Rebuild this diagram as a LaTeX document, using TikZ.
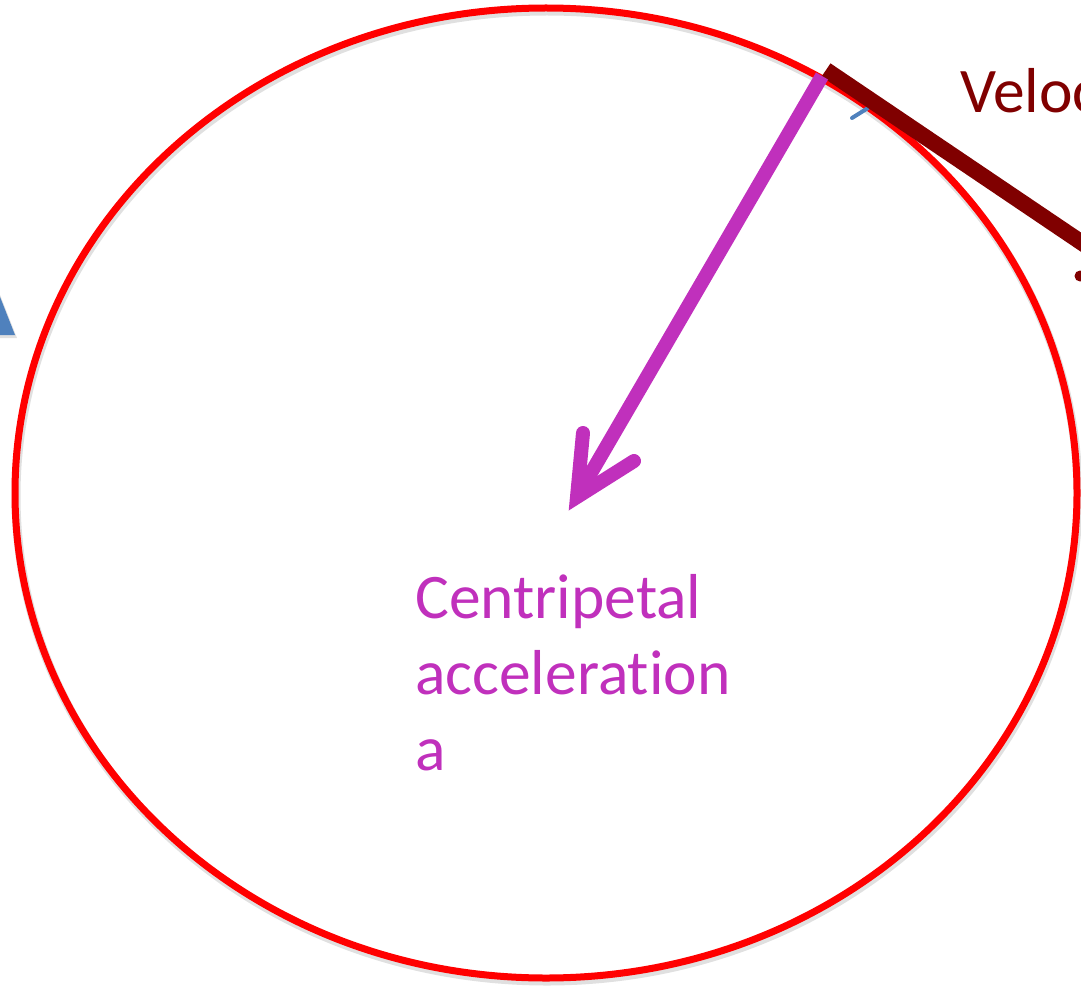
\documentclass[tikz,border=0pt]{standalone}
\usepackage{fontspec}
\setmainfont{Carlito}[Ligatures={NoCommon}]
\definecolor{ringred}{RGB}{255,0,0}
\definecolor{accmag}{RGB}{192,48,188}
\definecolor{veldark}{RGB}{128,0,0}
\definecolor{tinyblue}{RGB}{79,129,189}
\begin{document}
\begin{tikzpicture}[x=1pt,y=-1pt,
  ring/.style={draw=ringred,line width=7pt},
  shade/.style={draw=black,opacity=0.12,line width=9pt},
  accline/.style={draw=accmag,line width=14pt},
  acchead/.style={draw=accmag,line width=14pt,line cap=round,line join=miter},
  velline/.style={draw=veldark,line width=16pt},
  lbl/.style={font=\fontsize{63.5}{76}\selectfont,inner sep=0pt,align=left}]
\useasboundingbox (0,0) rectangle (1081,987);
\begin{scope}
\clip (0,0) rectangle (1081,987);
% blue triangle at left edge
\fill[black,opacity=0.12] (-18,249) -- (17,338) -- (-18,338) -- cycle;
\fill[tinyblue] (-20,246) -- (15,335) -- (-20,335) -- cycle;
% circle (ellipse)
\draw[shade] (547,496) ellipse [x radius=531, y radius=485];
\draw[ring] (546,493) ellipse [x radius=531, y radius=485];
% tiny blue mark
\coordinate (b1) at (852,118);
\coordinate (b2) at (868,108);
\draw[tinyblue,line width=4pt,line cap=round] (b1) -- (b2);
% velocity line
\coordinate (v1) at (826,70);
\coordinate (v2) at (1100,255);
\draw[velline] (v1) -- (v2);
\fill[veldark] (1080,276) circle (5.5);
\node[lbl,text=veldark,anchor=base west] (vel) at (960,113) {Velocity};
% centripetal acceleration arrow
\coordinate (a1) at (822,76);
\coordinate (tip) at (577,497);
\coordinate (h1) at (583,433);
\coordinate (h2) at (634,461);
\draw[accline] (a1) -- (tip);
\draw[acchead] (h1) -- (tip) -- (h2);
\node[lbl,text=accmag,anchor=base west] (acc) at (415,770) {Centripetal\\acceleration\\a};
\end{scope}
\end{tikzpicture}
\end{document}
